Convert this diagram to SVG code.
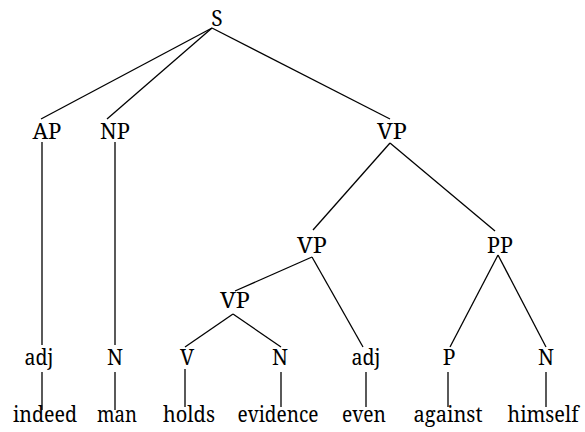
<svg xmlns="http://www.w3.org/2000/svg" width="585" height="432" viewBox="0 0 585 432">
<style>
text{font-family:"Noto Serif","DejaVu Serif",serif;font-size:21px;fill:#000;text-anchor:middle}
line{stroke:#000;stroke-width:1.3;fill:none}
</style>
<rect width="585" height="432" fill="#fff"/>
<g id="connectors">
<line x1="212" y1="28" x2="41" y2="119"/>
<line x1="212" y1="28" x2="107" y2="119"/>
<line x1="212" y1="28" x2="390" y2="119"/>
<line x1="42" y1="142" x2="42" y2="345"/>
<line x1="115" y1="142" x2="115" y2="345"/>
<line x1="390" y1="143" x2="313" y2="230"/>
<line x1="390" y1="143" x2="495" y2="231"/>
<line x1="312" y1="257" x2="235" y2="291"/>
<line x1="312" y1="257" x2="363" y2="347"/>
<line x1="498" y1="255" x2="450" y2="347"/>
<line x1="498" y1="255" x2="546" y2="347"/>
<line x1="233" y1="314" x2="185" y2="347"/>
<line x1="233" y1="314" x2="281" y2="347"/>
<line x1="42" y1="372" x2="42" y2="410"/>
<line x1="115" y1="372" x2="115" y2="410"/>
<line x1="185" y1="369" x2="185" y2="407"/>
<line x1="281" y1="372" x2="281" y2="407"/>
<line x1="366" y1="372" x2="366" y2="407"/>
<line x1="448" y1="372" x2="448" y2="407"/>
<line x1="546" y1="372" x2="546" y2="407"/>
</g>
<g id="S"><text x="217" y="26">S</text></g>
<g id="AP"><text x="47" y="139" textLength="29" lengthAdjust="spacingAndGlyphs">AP</text></g>
<g id="NP"><text x="115" y="139" textLength="30" lengthAdjust="spacingAndGlyphs">NP</text></g>
<g id="VP1"><text x="392" y="139" textLength="30" lengthAdjust="spacingAndGlyphs">VP</text></g>
<g id="VP2"><text x="312" y="253" textLength="30" lengthAdjust="spacingAndGlyphs">VP</text></g>
<g id="PP"><text x="500" y="253" textLength="26" lengthAdjust="spacingAndGlyphs">PP</text></g>
<g id="VP3"><text x="235" y="308" textLength="30" lengthAdjust="spacingAndGlyphs">VP</text></g>
<g id="adj1"><text x="39" y="365" textLength="29" lengthAdjust="spacingAndGlyphs">adj</text></g>
<g id="N1"><text x="115" y="365">N</text></g>
<g id="V"><text x="187" y="365">V</text></g>
<g id="N2"><text x="280" y="365">N</text></g>
<g id="adj2"><text x="366" y="365" textLength="29" lengthAdjust="spacingAndGlyphs">adj</text></g>
<g id="P"><text x="449" y="365">P</text></g>
<g id="N3"><text x="546" y="365">N</text></g>
<g id="w-indeed"><text x="45" y="422" textLength="64" lengthAdjust="spacingAndGlyphs">indeed</text></g>
<g id="w-man"><text x="117" y="422" textLength="40" lengthAdjust="spacingAndGlyphs">man</text></g>
<g id="w-holds"><text x="189" y="422" textLength="52" lengthAdjust="spacingAndGlyphs">holds</text></g>
<g id="w-evidence"><text x="278" y="422" textLength="81" lengthAdjust="spacingAndGlyphs">evidence</text></g>
<g id="w-even"><text x="364" y="422" textLength="44" lengthAdjust="spacingAndGlyphs">even</text></g>
<g id="w-against"><text x="448" y="422" textLength="69" lengthAdjust="spacingAndGlyphs">against</text></g>
<g id="w-himself"><text x="543" y="422" textLength="71" lengthAdjust="spacingAndGlyphs">himself</text></g>
</svg>
